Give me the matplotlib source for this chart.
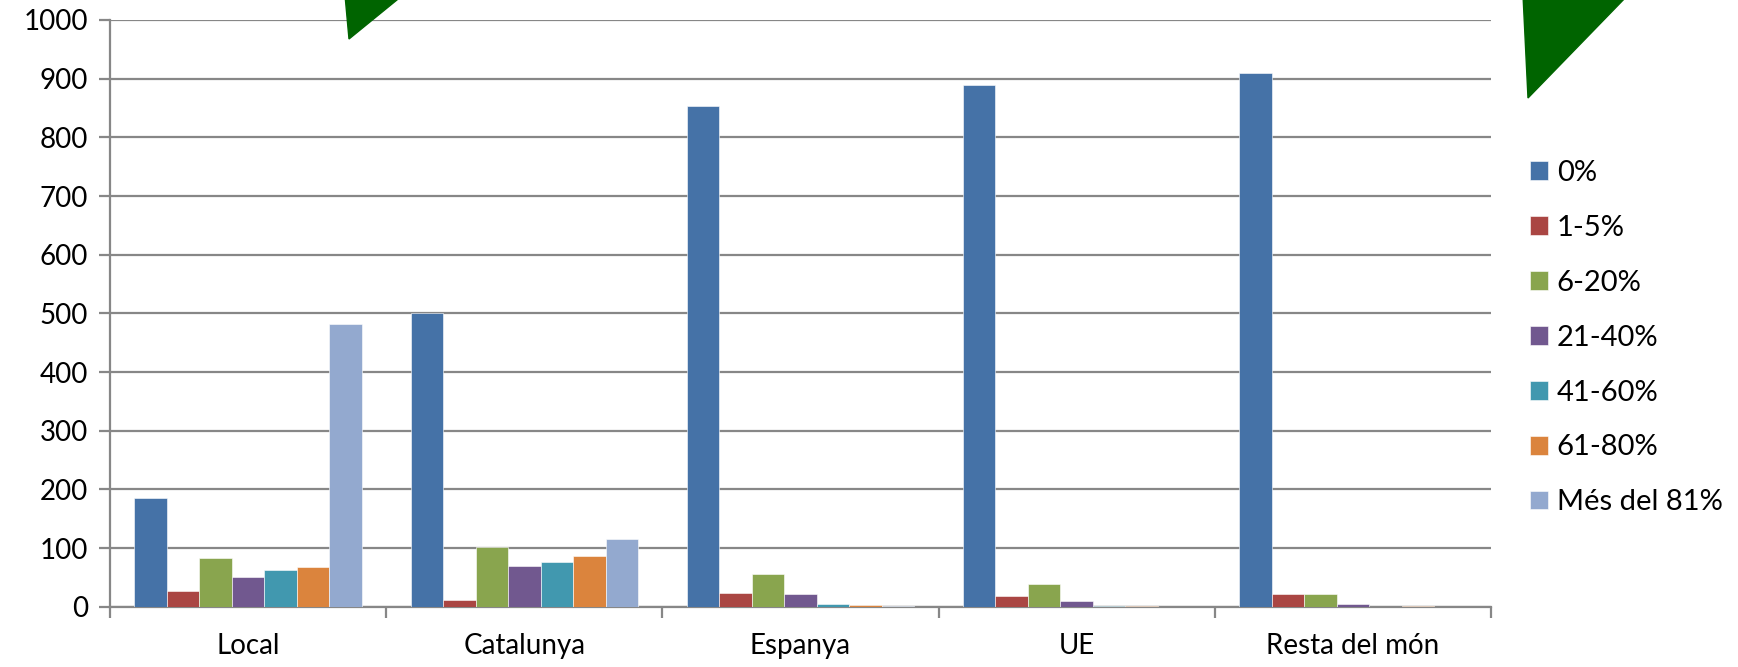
import matplotlib.pyplot as plt
import numpy as np
from matplotlib.patches import Polygon

# data
categories = ['Local', 'Catalunya', 'Espanya', 'UE', 'Resta del món']
series = ['0%', '1-5%', '6-20%', '21-40%', '41-60%', '61-80%', 'Més del 81%']
v_0 = [185, 500, 853, 890, 910]
v_1_5 = [26, 12, 24, 19, 22]
v_6_20 = [83, 101, 55, 39, 22]
v_21_40 = [51, 69, 21, 10, 5]
v_41_60 = [63, 77, 5, 1, 0]
v_61_80 = [67, 86, 3, 2, 1]
v_81 = [482, 115, 1, 0, 0]
yticks = [0, 100, 200, 300, 400, 500, 600, 700, 800, 900, 1000]

colors = ['#4572A7', '#AA4643', '#89A54E', '#71588F', '#4198AF', '#DB843D', '#93A9CF']
values = [v_0, v_1_5, v_6_20, v_21_40, v_41_60, v_61_80, v_81]

plt.rcParams['font.family'] = ['Lato', 'DejaVu Sans']

W, H = 1738, 667
fig = plt.figure(figsize=(W / 100, H / 100), dpi=100)
ax = fig.add_axes([110 / W, 1 - 606.7 / H, (1491 - 110) / W, (606.7 - 20) / H])

x = np.arange(len(categories))
w = 1 / 8.5
for j, (name, vals) in enumerate(zip(series, values)):
    ax.bar(x + (j - 3) * w, vals, width=w, color=colors[j], label=name,
           edgecolor='white', linewidth=0.4, zorder=3)

ax.set_xlim(-0.5, len(categories) - 0.5)
ax.set_ylim(0, 1000)
ax.set_yticks(yticks)
ax.yaxis.grid(True, color='#878787', linewidth=1.6, zorder=0)
ax.set_axisbelow(True)

ax.set_xticks(np.arange(len(categories) + 1) - 0.5)
ax.set_xticklabels([])
ax.set_xticks(x, minor=True)
ax.set_xticklabels(categories, minor=True)
ax.tick_params(axis='x', which='major', length=8, width=1.6, color='#878787', direction='out')
ax.tick_params(axis='x', which='minor', length=0, pad=19, labelsize=20)
ax.tick_params(axis='y', length=8, width=1.6, color='#878787', pad=8, labelsize=20)

for s in ['top', 'right']:
    ax.spines[s].set_visible(False)
for s in ['left', 'bottom']:
    ax.spines[s].set_color('#878787')
    ax.spines[s].set_linewidth(1.6)

fig.legend(loc='upper left', bbox_to_anchor=(1530 / W, 1 - 160 / H), frameon=False,
           fontsize=21, handlelength=0.62, handleheight=0.62, handletextpad=0.3,
           labelspacing=0.99, borderpad=0, borderaxespad=0)

# green arrow tips cut off at the top
def px(pts):
    return [(a / W, 1 - b / H) for a, b in pts]

fig.patches.append(Polygon(px([(345, -5), (349, 39), (403, -5)]), closed=True,
                           transform=fig.transFigure, color='#006400', zorder=10))
fig.patches.append(Polygon(px([(1523, -5), (1528, 98), (1628, -5)]), closed=True,
                           transform=fig.transFigure, color='#006400', zorder=10))

plt.savefig('out.png', dpi=100)
